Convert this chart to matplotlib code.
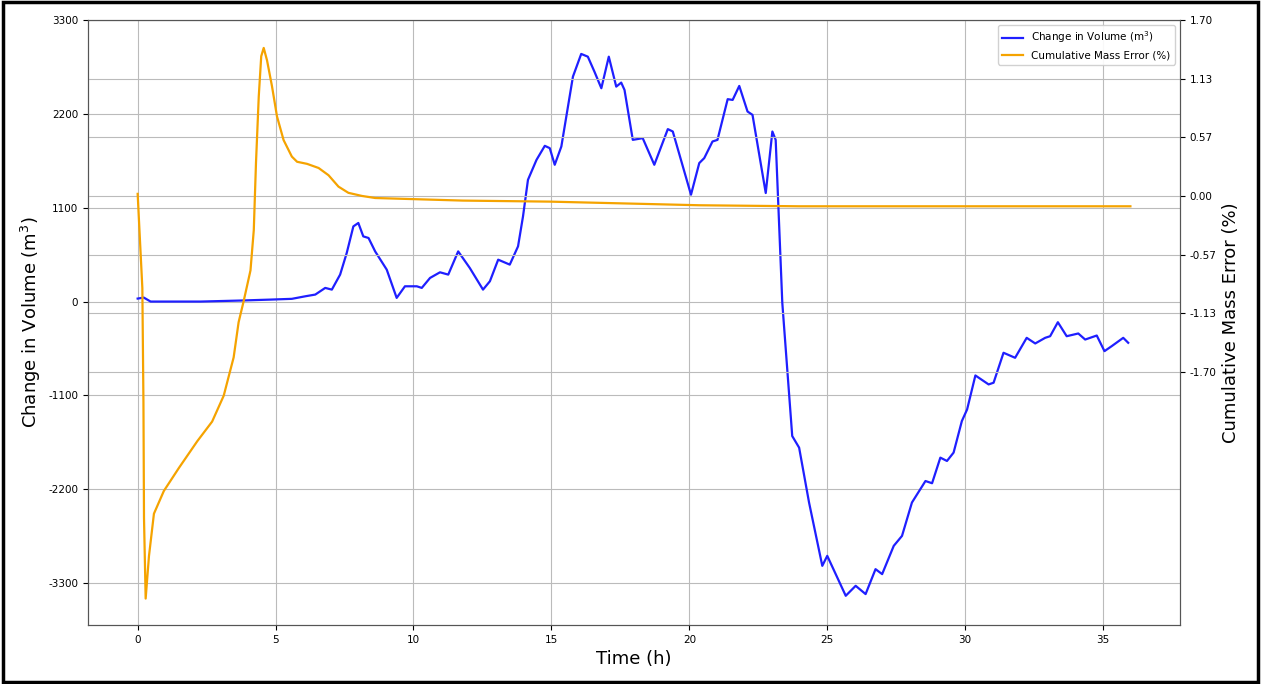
from pathlib import Path

import matplotlib

matplotlib.use("Agg")
import matplotlib.pyplot as plt
import numpy as np
from matplotlib.patches import Rectangle


OUT_PATH = Path("out.png")

# Change in storage volume over the run (m3)
volume_time_h = [
    0.00, 0.22, 0.47, 2.28, 3.73, 4.81, 5.59, 6.08, 6.44, 6.80, 7.04, 7.34,
    7.58, 7.82, 8.00, 8.18, 8.37, 8.61, 9.03, 9.39, 9.69, 10.12, 10.30, 10.60,
    10.96, 11.26, 11.62, 12.04, 12.52, 12.77, 13.07, 13.49, 13.79, 13.97,
    14.15, 14.46, 14.76, 14.94, 15.12, 15.36, 15.78, 16.08, 16.32, 16.56,
    16.81, 17.08, 17.35, 17.53, 17.65, 17.95, 18.31, 18.73, 19.22, 19.40,
    20.06, 20.36, 20.54, 20.84, 21.02, 21.39, 21.57, 21.81, 22.11, 22.29,
    22.77, 23.01, 23.13, 23.37, 23.73, 23.98, 24.34, 24.82, 25.00, 25.67,
    26.03, 26.39, 26.75, 26.99, 27.41, 27.71, 28.07, 28.56, 28.80, 29.10,
    29.34, 29.58, 29.88, 30.07, 30.37, 30.85, 31.03, 31.39, 31.81, 32.23,
    32.54, 32.90, 33.08, 33.36, 33.68, 34.10, 34.35, 34.77, 35.05, 35.31,
    35.73, 35.91,
]
volume_change_m3 = [
    35, 47, 0, 0, 12, 23, 32, 62, 82, 160, 140, 316,
    570, 881, 921, 764, 745, 588, 374, 43, 179, 179, 160, 277,
    343, 316, 588, 394, 140, 238, 491, 433, 647, 998,
    1427, 1661, 1825, 1798, 1603, 1817, 2636, 2902, 2870, 2694,
    2500, 2870, 2519, 2566, 2480, 1895, 1915, 1603, 2021, 1993,
    1252, 1623, 1681, 1876, 1895, 2372, 2363, 2527, 2227, 2188,
    1272, 1993, 1895, -15, -1576, -1712, -2355, -3097, -2980, -3448,
    -3331, -3428, -3136, -3194, -2863, -2746, -2355, -2103, -2129, -1829,
    -1868, -1770, -1400, -1264, -866, -971, -951, -600, -659, -425,
    -491, -425, -406, -242, -406, -374, -445, -398, -581, -523,
    -425, -483,
]

# Cumulative mass balance error (%)
error_time_h = [
    0.00, 0.17, 0.21, 0.23, 0.29, 0.41, 0.59, 0.95, 1.49, 2.16, 2.70, 3.12,
    3.48, 3.66, 3.84, 4.09, 4.21, 4.29, 4.39, 4.48, 4.57, 4.69, 4.87, 5.05,
    5.29, 5.59, 5.78, 6.14, 6.56, 6.92, 7.28, 7.64, 8.13, 8.61, 11.79, 14.94,
    20.36, 23.98, 35.99,
]
mass_error_pct = [
    0.02, -0.89, -2.00, -3.11, -3.89, -3.48, -3.07, -2.85, -2.63, -2.37, -2.18, -1.93,
    -1.56, -1.22, -1.02, -0.72, -0.33, 0.32, 0.96, 1.35, 1.43, 1.31, 1.06, 0.77,
    0.54, 0.38, 0.33, 0.31, 0.27, 0.20, 0.09, 0.03, 0.00, -0.02, -0.045, -0.055,
    -0.09, -0.10, -0.10,
]

volume_ticks = [-3300, -2200, -1100, 0, 1100, 2200, 3300]
error_ticks = np.linspace(-1.70, 1.70, 7)


def plot_balance(out_path):
    fig = plt.figure(figsize=(12.61, 6.84), dpi=100)
    ax = fig.add_axes([0.0698, 0.0863, 0.866, 0.8845])

    ax.plot(volume_time_h, volume_change_m3, color="#1f1fff", lw=1.6,
            solid_joinstyle="round", label="Change in Volume (m$^3$)")
    ax.set_ylim(-3790, 3300)
    ax.set_yticks(volume_ticks)
    ax.set_yticklabels([str(v) for v in volume_ticks])
    ax.set_xlabel("Time (h)", fontsize=13)
    ax.set_ylabel("Change in Volume (m$^3$)", fontsize=13)
    ax.tick_params(labelsize=7.5)
    ax.grid(True, color="#bbbbbb", lw=0.8)

    ax2 = ax.twinx()
    ax2.plot(error_time_h, mass_error_pct, color="#f5a300", lw=1.6,
             solid_joinstyle="round", label="Cumulative Mass Error (%)")
    ax2.set_ylim(-4.145, 1.70)
    ax2.set_yticks(error_ticks)
    ax2.set_yticklabels([f"{v:.2f}" for v in error_ticks])
    ax2.set_ylabel("Cumulative Mass Error (%)", fontsize=13)
    ax2.tick_params(labelsize=7.5)
    ax2.grid(True, color="#bbbbbb", lw=0.8)

    for a in (ax, ax2):
        for spine in a.spines.values():
            spine.set_color("#555555")

    lines = ax.get_lines() + ax2.get_lines()
    ax2.legend(lines, [l.get_label() for l in lines], loc="upper right",
               fontsize=7.5, framealpha=0.9)

    fig.patches.append(Rectangle((0.002, 0.003), 0.996, 0.994, transform=fig.transFigure,
                                 fill=False, edgecolor="black", lw=2.5))
    fig.savefig(out_path, dpi=100)
    plt.close(fig)


def main():
    plot_balance(OUT_PATH)


if __name__ == "__main__":
    main()
